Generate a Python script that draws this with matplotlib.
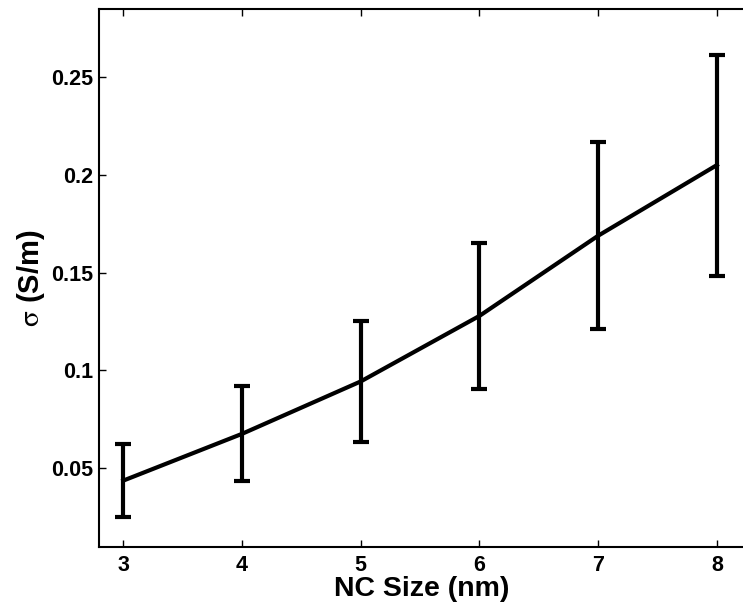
import matplotlib
matplotlib.use('Agg')
import matplotlib.pyplot as plt

# NC size vs conductivity
nc_size = [3, 4, 5, 6, 7, 8]
sigma = [0.0437, 0.0676, 0.0944, 0.1279, 0.1689, 0.2050]
sigma_err = [0.0185, 0.0243, 0.0311, 0.0374, 0.0477, 0.0565]

x_ticks = [3, 4, 5, 6, 7, 8]
y_ticks = [0.05, 0.1, 0.15, 0.2, 0.25]
y_tick_labels = ['0.05', '0.1', '0.15', '0.2', '0.25']

plt.rcParams['font.family'] = ['Liberation Sans', 'DejaVu Sans']
plt.rcParams['mathtext.fontset'] = 'stix'

fig = plt.figure(figsize=(7.43, 6.08), dpi=100)
ax = fig.add_axes([0.1332, 0.1008, 0.8700, 0.8844])

ax.errorbar(nc_size, sigma, yerr=sigma_err, color='black', linewidth=3,
            elinewidth=3, capsize=5.5, capthick=3)

ax.set_xlim(2.795, 8.24)
ax.set_ylim(0.0099, 0.2848)
ax.set_xticks(x_ticks)
ax.set_yticks(y_ticks)
ax.set_yticklabels(y_tick_labels)

ax.tick_params(direction='in', length=5, width=1, top=True, right=False,
               labelsize=15.5, pad=4)
ax.tick_params(axis='x', pad=6)
for lbl in ax.get_xticklabels() + ax.get_yticklabels():
    lbl.set_fontweight('bold')
for sp in ax.spines.values():
    sp.set_linewidth(1.5)

ax.set_xlabel('NC Size (nm)', fontsize=20.5, fontweight='bold', labelpad=0)
ax.set_ylabel(r'$\mathrm{\sigma}$ (S/m)', fontsize=21, fontweight='bold', labelpad=3)

fig.savefig('out.png', dpi=100)
